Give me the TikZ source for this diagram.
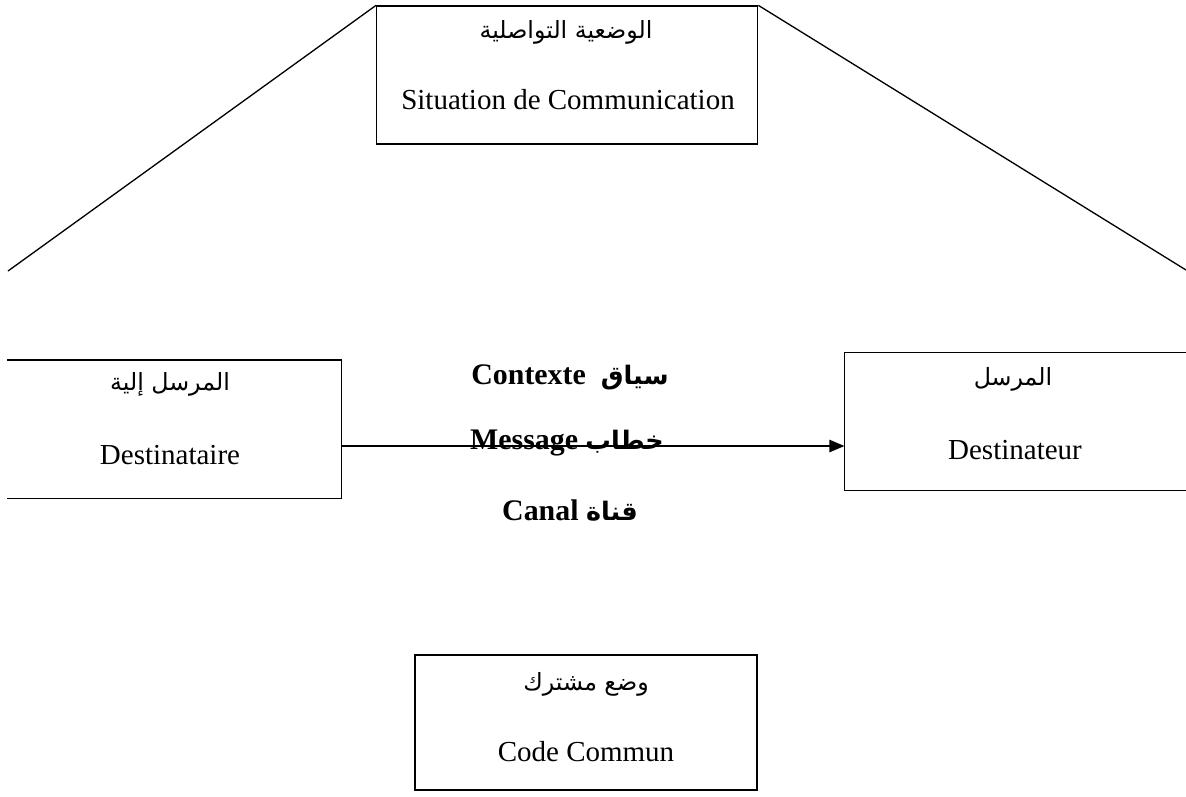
\documentclass[tikz,border=0pt]{standalone}
\usepackage{fontspec}
\setmainfont{Liberation Serif}
\newfontfamily\arabicfont[Script=Arabic]{DejaVu Sans}
\TeXXeTstate=1
\usetikzlibrary{arrows.meta}
\newcommand{\midar}[1]{{\fontsize{14.5}{18}\selectfont\arabicfont\beginR #1\endR}}

\begin{document}
\begin{tikzpicture}[line width=0.75pt,
  box/.style={draw,minimum width=#1,minimum height=2.76cm,inner sep=0pt},
  openbox/.style={minimum width=#1,minimum height=2.74cm,inner sep=0pt},
  lat/.style={font=\fontsize{16.5}{20}\selectfont},
  ar/.style={font=\fontsize{13.5}{18}\selectfont\arabicfont},
  mid/.style={font=\fontsize{17}{20}\selectfont\bfseries}]
\useasboundingbox (0,0) rectangle (23.72,-15.92);
% situation
\node[box=7.62cm] (sit) at (11.344,-1.5) {};
\node[ar] (sitar) at (11.32,-0.64) {\beginR الوضعية التواصلية\endR};
\node[lat] (sitfr) at (11.36,-2.0) {Situation de Communication};
\coordinate (l) at (0.16,-5.42);
\coordinate (r) at (23.72,-5.4);
\draw (l)--(sit.north west);
\draw (sit.north east)--(r);
% destinataire
\node[openbox=6.66cm] (dest) at (3.49,-8.58) {};
\draw (dest.north west) -| (dest.south east) -- (dest.south west);
\node[ar] (destar) at (3.4,-7.68) {\beginR المرسل إلية\endR};
\node[lat] (destfr) at (3.4,-9.1) {Destinataire};
% destinateur
\node[openbox=6.82cm] (dtr) at (20.31,-8.43) {};
\draw (dtr.north east) -| (dtr.south west) -- (dtr.south east);
\node[ar] (dtrar) at (20.26,-7.58) {\beginR المرسل\endR};
\node[lat] (dtrfr) at (20.3,-9.0) {Destinateur};
% message
\coordinate (m) at (0,-8.92);
\draw[-{Triangle[length=0.3cm,width=0.25cm]}] (dest.east |- m)--(dtr.west |- m);
\node[mid] (ctx) at (11.4,-7.54) {Contexte\ \ \midar{سياق}};
\node[mid] (msg) at (11.34,-8.86) {Message \midar{خطاب}};
\node[mid] (can) at (11.4,-10.2) {Canal \midar{قناة}};
% code
\node[box=6.84cm,minimum height=2.7cm] (code) at (11.72,-14.45) {};
\node[ar] (codear) at (11.72,-13.68) {\beginR وضع مشترك\endR};
\node[lat] (codefr) at (11.72,-15.04) {Code Commun};
\end{tikzpicture}
\end{document}
